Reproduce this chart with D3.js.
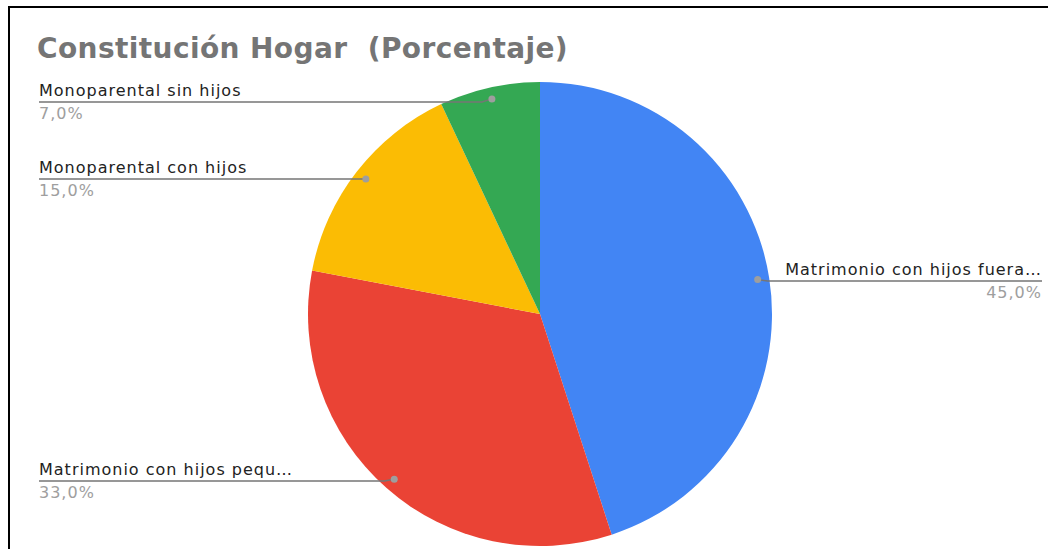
<!DOCTYPE html>
<html>
<head>
<meta charset="utf-8">
<script src="https://cdn.jsdelivr.net/npm/d3@7"></script>
<style>
  html, body { margin: 0; padding: 0; background: #fff; overflow: hidden; }
  text { font-family: "DejaVu Sans", Verdana, sans-serif; }
</style>
</head>
<body>
<div id="root"></div>
<script>
var categories = ["Matrimonio con hijos fuera…", "Matrimonio con hijos pequ…", "Monoparental con hijos", "Monoparental sin hijos"];
var values = [45, 33, 15, 7];
var valueLabels = ["45,0%", "33,0%", "15,0%", "7,0%"];
var colors = ["#4285f4", "#ea4335", "#fbbc04", "#34a853"];

function drawChart() {
  var width = 1048, height = 549;
  var cx = 540, cy = 314, radius = 232;

  var svg = d3.select("#root").append("svg")
      .attr("width", width)
      .attr("height", height);

  // frame (only top and left edges visible in the crop)
  svg.append("rect")
      .attr("x", 9).attr("y", 7)
      .attr("width", width + 20).attr("height", height + 20)
      .attr("fill", "none")
      .attr("stroke", "#000")
      .attr("stroke-width", 2);

  svg.append("text")
      .attr("x", 37).attr("y", 58)
      .attr("font-size", 28)
      .attr("font-weight", "bold")
      .attr("letter-spacing", 0.4)
      .attr("fill", "#757575")
      .attr("xml:space", "preserve")
      .text("Constitución Hogar  (Porcentaje)");

  var data = categories.map(function(c, i) { return {name: c, value: values[i], label: valueLabels[i], color: colors[i]}; });

  var pie = d3.pie().sort(null).value(function(d) { return d.value; });
  var arc = d3.arc().innerRadius(0).outerRadius(radius);
  var dotArc = d3.arc().innerRadius(radius * 0.95).outerRadius(radius * 0.95);

  var g = svg.append("g").attr("transform", "translate(" + cx + "," + cy + ")");
  var arcs = pie(data);

  g.selectAll(".slice")
    .data(arcs)
    .enter().append("path")
      .attr("class", "slice")
      .attr("d", arc)
      .attr("fill", function(d) { return d.data.color; });

  // label positions: left or right column, line y
  var labelX = {left: 39, right: 1042};
  var lineY = [281, 481, 179, 102];

  arcs.forEach(function(d, i) {
    var p = dotArc.centroid(d);
    var px = cx + p[0], py = cy + p[1];
    var right = px > cx;
    var lx = right ? labelX.right : labelX.left;
    var ly = lineY[i];

    svg.append("path")
        .attr("d", "M" + lx + "," + ly + "L" + (right ? px + 10 : px - 10) + "," + ly + "L" + px + "," + py)
        .attr("fill", "none")
        .attr("stroke", "#757575")
        .attr("stroke-width", 1.5);

    svg.append("circle")
        .attr("cx", px).attr("cy", py).attr("r", 3.5)
        .attr("fill", "#9e9e9e");

    svg.append("text")
        .attr("x", lx).attr("y", ly - 6)
        .attr("text-anchor", right ? "end" : "start")
        .attr("font-size", 16)
        .attr("letter-spacing", 1)
        .attr("fill", "#222")
        .text(d.data.name);

    svg.append("text")
        .attr("x", lx).attr("y", ly + 17)
        .attr("text-anchor", right ? "end" : "start")
        .attr("font-size", 16)
        .attr("letter-spacing", 1)
        .attr("fill", "#9e9e9e")
        .text(d.data.label);
  });
}

drawChart();
</script>
</body>
</html>
